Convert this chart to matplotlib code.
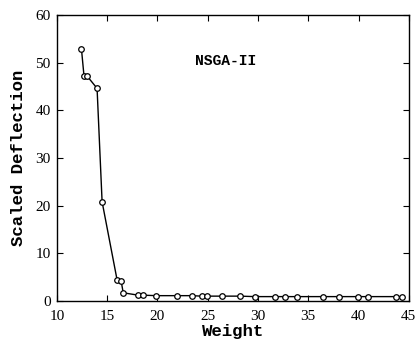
import matplotlib
matplotlib.use("Agg")
import matplotlib.pyplot as plt

# NSGA-II front: weight vs scaled deflection
weight = [12.45, 12.7, 13.0, 14.0, 14.5, 16.0, 16.4, 16.6, 18.1, 18.6, 19.9,
          21.9, 23.4, 24.4, 24.9, 26.4, 28.2, 29.7, 31.7, 32.7, 33.9, 36.5,
          38.1, 39.9, 40.9, 43.7, 44.3]
deflection = [52.8, 47.2, 47.2, 44.6, 20.8, 4.3, 4.1, 1.7, 1.2, 1.2, 1.1,
              1.1, 1.1, 1.0, 1.0, 1.0, 1.0, 0.9, 0.9, 0.9, 0.9, 0.9,
              0.9, 0.9, 0.9, 0.9, 0.9]
xticks = [10, 15, 20, 25, 30, 35, 40, 45]
yticks = [0, 10, 20, 30, 40, 50, 60]

serif = ["Liberation Serif", "DejaVu Serif"]
mono = ["Liberation Mono", "DejaVu Sans Mono"]

fig = plt.figure(figsize=(4.18, 3.40), dpi=100)
ax = fig.add_axes([0.136, 0.115, 0.842, 0.841])

ax.plot(weight, deflection, color="black", lw=1.0, marker="o",
        markersize=4.0, markerfacecolor="white", markeredgecolor="black",
        markeredgewidth=0.9)

ax.set_xlim(10, 45)
ax.set_ylim(0, 60)
ax.set_xticks(xticks)
ax.set_yticks(yticks)
ax.tick_params(direction="in", top=True, right=True, length=4, width=0.8,
               labelsize=11)
ax.tick_params(axis="x", pad=6.5)
ax.tick_params(axis="y", pad=4.5)
for lab in ax.get_xticklabels() + ax.get_yticklabels():
    lab.set_family(serif)
for s in ax.spines.values():
    s.set_linewidth(1.0)

ax.set_xlabel("Weight", family=mono, fontweight="bold", fontsize=12.5,
              labelpad=1)
ax.set_ylabel("Scaled Deflection", family=mono, fontweight="bold",
              fontsize=12.5, labelpad=7)
ax.text(26.8, 50.3, "NSGA-II", family=mono, fontweight="bold", fontsize=10.5,
        ha="center", va="center")

fig.savefig("out.png", dpi=100, facecolor="white")
